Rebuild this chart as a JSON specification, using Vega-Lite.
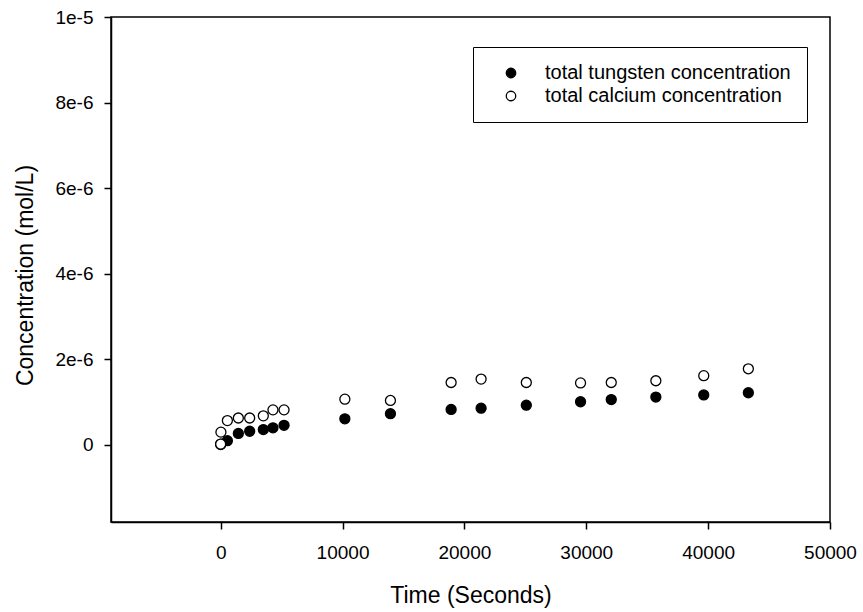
{
  "$schema": "https://vega.github.io/schema/vega-lite/v6.json",
  "width": 719,
  "height": 505,
  "autosize": {"type": "none"},
  "padding": {"left": 111, "top": 17, "right": 33, "bottom": 90},
  "background": "white",
  "config": {
    "font": "Liberation Sans",
    "view": {"stroke": "black", "strokeWidth": 1.5},
    "axis": {
      "grid": false,
      "labelFlush": false,
      "labelOverlap": false,
      "domainColor": "black",
      "domainWidth": 1.5,
      "tickColor": "black",
      "tickWidth": 1.5,
      "tickSize": 7,
      "labelFont": "Liberation Sans",
      "labelFontSize": 19,
      "labelColor": "black",
      "titleFont": "Liberation Sans",
      "titleFontSize": 23,
      "titleFontWeight": "normal",
      "titleColor": "black"
    }
  },
  "data": {
    "values": [
      {"t": 0, "c": 0.01e-6, "s": "total tungsten concentration"},
      {"t": 20, "c": 0.02e-6, "s": "total tungsten concentration"},
      {"t": 550, "c": 0.10e-6, "s": "total tungsten concentration"},
      {"t": 1450, "c": 0.27e-6, "s": "total tungsten concentration"},
      {"t": 2380, "c": 0.32e-6, "s": "total tungsten concentration"},
      {"t": 3500, "c": 0.36e-6, "s": "total tungsten concentration"},
      {"t": 4290, "c": 0.40e-6, "s": "total tungsten concentration"},
      {"t": 5200, "c": 0.46e-6, "s": "total tungsten concentration"},
      {"t": 10190, "c": 0.61e-6, "s": "total tungsten concentration"},
      {"t": 13930, "c": 0.73e-6, "s": "total tungsten concentration"},
      {"t": 18910, "c": 0.83e-6, "s": "total tungsten concentration"},
      {"t": 21370, "c": 0.86e-6, "s": "total tungsten concentration"},
      {"t": 25080, "c": 0.93e-6, "s": "total tungsten concentration"},
      {"t": 29530, "c": 1.01e-6, "s": "total tungsten concentration"},
      {"t": 32050, "c": 1.06e-6, "s": "total tungsten concentration"},
      {"t": 35710, "c": 1.12e-6, "s": "total tungsten concentration"},
      {"t": 39640, "c": 1.17e-6, "s": "total tungsten concentration"},
      {"t": 43300, "c": 1.22e-6, "s": "total tungsten concentration"},
      {"t": 0, "c": 0.02e-6, "s": "total calcium concentration"},
      {"t": 20, "c": 0.30e-6, "s": "total calcium concentration"},
      {"t": 550, "c": 0.57e-6, "s": "total calcium concentration"},
      {"t": 1450, "c": 0.63e-6, "s": "total calcium concentration"},
      {"t": 2380, "c": 0.63e-6, "s": "total calcium concentration"},
      {"t": 3500, "c": 0.68e-6, "s": "total calcium concentration"},
      {"t": 4290, "c": 0.82e-6, "s": "total calcium concentration"},
      {"t": 5200, "c": 0.82e-6, "s": "total calcium concentration"},
      {"t": 10190, "c": 1.07e-6, "s": "total calcium concentration"},
      {"t": 13930, "c": 1.04e-6, "s": "total calcium concentration"},
      {"t": 18910, "c": 1.46e-6, "s": "total calcium concentration"},
      {"t": 21370, "c": 1.54e-6, "s": "total calcium concentration"},
      {"t": 25080, "c": 1.46e-6, "s": "total calcium concentration"},
      {"t": 29530, "c": 1.45e-6, "s": "total calcium concentration"},
      {"t": 32050, "c": 1.46e-6, "s": "total calcium concentration"},
      {"t": 35710, "c": 1.50e-6, "s": "total calcium concentration"},
      {"t": 39640, "c": 1.62e-6, "s": "total calcium concentration"},
      {"t": 43300, "c": 1.78e-6, "s": "total calcium concentration"}
    ]
  },
  "mark": {"type": "point", "shape": "circle", "filled": false, "stroke": "black", "strokeWidth": 1.3, "size": 100, "opacity": 1},
  "encoding": {
    "x": {
      "field": "t",
      "type": "quantitative",
      "scale": {"domain": [-9000, 50000], "nice": false, "zero": false},
      "axis": {
        "title": "Time (Seconds)",
        "values": [0, 10000, 20000, 30000, 40000, 50000],
        "format": "d",
        "labelPadding": 14,
        "titleX": 359.5,
        "titleY": 80,
        "titleAlign": "center",
        "titleBaseline": "alphabetic"
      }
    },
    "y": {
      "field": "c",
      "type": "quantitative",
      "scale": {"domain": [-1.8e-6, 1e-5], "nice": false, "zero": false},
      "axis": {
        "title": "Concentration (mol/L)",
        "values": [0, 2e-6, 4e-6, 6e-6, 8e-6, 1e-5],
        "labelExpr": "datum.value == 0 ? '0' : (datum.value >= 9.99e-6 ? '1e-5' : format(datum.value * 1e6, 'd') + 'e-6')",
        "labelPadding": 11,
        "titleAngle": -90,
        "titleX": -86,
        "titleY": 258,
        "titleAlign": "center",
        "titleBaseline": "middle"
      }
    },
    "fill": {
      "field": "s",
      "type": "nominal",
      "scale": {
        "domain": ["total tungsten concentration", "total calcium concentration"],
        "range": ["black", "white"]
      },
      "legend": {
        "title": null,
        "orient": "none",
        "legendX": 362,
        "legendY": 30,
        "padding": 16,
        "strokeColor": "black",
        "fillColor": "white",
        "symbolType": "circle",
        "symbolSize": 90,
        "symbolStrokeColor": "black",
        "symbolStrokeWidth": 1.3,
        "symbolOffset": 12,
        "labelOffset": 24,
        "labelFont": "Liberation Sans",
        "labelFontSize": 20,
        "labelColor": "black",
        "labelLimit": 400,
        "rowPadding": 3,
        "symbolOpacity": 1
      }
    }
  }
}
